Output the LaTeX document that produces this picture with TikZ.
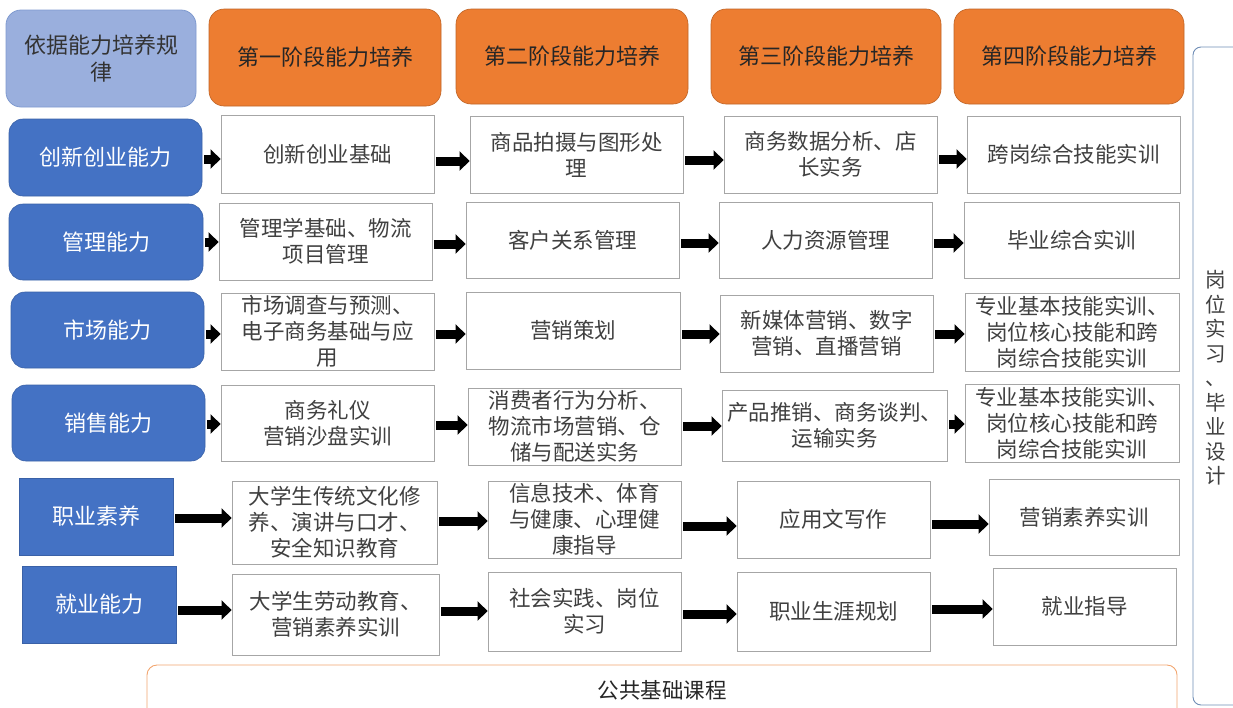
\documentclass[tikz,border=0pt]{standalone}
\usepackage{fontspec}
\newfontfamily\cjk{Noto Sans CJK SC}
\usetikzlibrary{arrows.meta}
\definecolor{orangeH}{HTML}{ED7D31}
\definecolor{blueL}{HTML}{4472C4}
\definecolor{lightB}{HTML}{9AAFDD}
\definecolor{lightBd}{HTML}{7F9ACF}
\definecolor{txt}{HTML}{404040}
\definecolor{boxbd}{HTML}{A6A6A6}
\definecolor{rbd}{HTML}{6F8DB6}
\definecolor{obd}{HTML}{F2A56E}
\tikzset{
  base/.style={inner sep=0pt, align=center, font=\cjk\fontsize{21.5}{26}\selectfont},
  hdr/.style={base, fill=orangeH, draw=orangeH!80!black, line width=0.6pt, rounded corners=15pt, text=black!85, font=\cjk\fontsize{22}{26}\selectfont},
  hdrzero/.style={base, fill=lightB, draw=lightBd, line width=0.8pt, rounded corners=15pt, text=black!80, font=\cjk\fontsize{22}{27}\selectfont},
  capbox/.style={base, fill=blueL, draw=blueL!85!black, line width=0.6pt, rounded corners=14pt, text=white, font=\cjk\fontsize{22}{26}\selectfont},
  capsq/.style={base, fill=blueL, draw=blueL!85!black, line width=0.6pt, text=white, font=\cjk\fontsize{22}{26}\selectfont},
  wbox/.style={base, fill=white, draw=boxbd, line width=0.8pt, text=txt},
  arr/.style={line width=9pt, -{Triangle[length=10pt,width=19pt]}, black},
}
\newcommand{\bx}[7]{\node[#2, minimum width={(#5-#3)*1pt}, minimum height={(#6-#4)*1pt}] (#1) at ({(#3+#5)/2},{(#4+#6)/2}) {#7};}
\newcommand{\ar}[3]{\draw[arr] ([xshift=2pt]#1.east |- 0,#3) -- (#2.west |- 0,#3);}
\begin{document}
\begin{tikzpicture}[x=1pt,y=-1pt]
\useasboundingbox (0,0) rectangle (1233,707);
\clip (0,0) rectangle (1233,707);
% header
\bx{h0}{hdrzero}{6}{10}{196}{107}{依据能力培养规\\律}
\bx{h1}{hdr}{209}{9}{441}{106}{第一阶段能力培养}
\bx{h2}{hdr}{456}{9}{688}{104}{第二阶段能力培养}
\bx{h3}{hdr}{711}{9}{941}{104}{第三阶段能力培养}
\bx{h4}{hdr}{954}{9}{1184}{104}{第四阶段能力培养}
% left column
\bx{c1}{capbox}{9}{119}{202}{196}{创新创业能力}
\bx{c2}{capbox}{9}{204}{203}{280}{管理能力}
\bx{c3}{capbox}{11}{292}{204}{368}{市场能力}
\bx{c4}{capbox}{12}{385}{205}{461}{销售能力}
\bx{c5}{capsq}{19}{478}{173}{555}{职业素养}
\bx{c6}{capsq}{22}{566}{176}{643}{就业能力}
% row 1
\bx{a1}{wbox}{221}{115}{434}{193}{创新创业基础}
\bx{a2}{wbox}{470}{116}{683}{193}{商品拍摄与图形处\\理}
\bx{a3}{wbox}{724}{116}{937}{193}{商务数据分析、店\\长实务}
\bx{a4}{wbox}{967}{116}{1180}{193}{跨岗综合技能实训}
% row 2
\bx{b1}{wbox}{219}{203}{432}{280}{管理学基础、物流\\项目管理}
\bx{b2}{wbox}{466}{202}{679}{278}{客户关系管理}
\bx{b3}{wbox}{719}{202}{932}{278}{人力资源管理}
\bx{b4}{wbox}{964}{202}{1179}{278}{毕业综合实训}
% row 3
\bx{d1}{wbox}{221}{293}{434}{370}{市场调查与预测、\\电子商务基础与应\\用}
\bx{d2}{wbox}{466}{292}{680}{369}{营销策划}
\bx{d3}{wbox}{720}{295}{933}{372}{新媒体营销、数字\\营销、直播营销}
\bx{d4}{wbox}{965}{293}{1179}{371}{专业基本技能实训、\\岗位核心技能和跨\\岗综合技能实训}
% row 4
\bx{e1}{wbox}{221}{385}{434}{461}{商务礼仪\\营销沙盘实训}
\bx{e2}{wbox}{468}{388}{681}{465}{消费者行为分析、\\物流市场营销、仓\\储与配送实务}
\bx{e3}{wbox}{722}{390}{947}{461}{产品推销、商务谈判、\\运输实务}
\bx{e4}{wbox}{965}{384}{1179}{462}{专业基本技能实训、\\岗位核心技能和跨\\岗综合技能实训}
% row 5
\bx{f1}{wbox}{232}{481}{437}{564}{大学生传统文化修\\养、演讲与口才、\\安全知识教育}
\bx{f2}{wbox}{488}{481}{681}{558}{信息技术、体育\\与健康、心理健\\康指导}
\bx{f3}{wbox}{737}{481}{930}{558}{应用文写作}
\bx{f4}{wbox}{989}{479}{1179}{555}{营销素养实训}
% row 6
\bx{g1}{wbox}{232}{574}{439}{655}{大学生劳动教育、\\营销素养实训}
\bx{g2}{wbox}{488}{572}{681}{651}{社会实践、岗位\\实习}
\bx{g3}{wbox}{737}{572}{930}{651}{职业生涯规划}
\bx{g4}{wbox}{993}{568}{1176}{645}{就业指导}
% arrows
\ar{c1}{a1}{159}\ar{a1}{a2}{161}\ar{a2}{a3}{160}\ar{a3}{a4}{159}
\ar{c2}{b1}{242}\ar{b1}{b2}{244}\ar{b2}{b3}{243}\ar{b3}{b4}{243}
\ar{c3}{d1}{334}\ar{d1}{d2}{334}\ar{d2}{d3}{334}\ar{d3}{d4}{334}
\ar{c4}{e1}{424}\ar{e1}{e2}{425}\ar{e2}{e3}{426}\ar{e3}{e4}{424}
\ar{c5}{f1}{518}\ar{f1}{f2}{521}\ar{f2}{f3}{526}\ar{f3}{f4}{524}
\ar{c6}{g1}{610}\ar{g1}{g2}{611}\ar{g2}{g3}{614}\ar{g3}{g4}{609}
% bottom box
\draw[obd, line width=0.9pt, rounded corners=10pt] (147,665) rectangle (1177,720);
\node[base, text=black!85] (pub) at (662,690) {公共基础课程};
% right box
\draw[rbd, line width=0.9pt, rounded corners=8pt] (1193,47) rectangle (1260,705);
\node[base, text=txt, font=\cjk\fontsize{20.5}{24.5}\selectfont] (gw) at (1216,378) {岗\\位\\实\\习\\、\\毕\\业\\设\\计};
\end{tikzpicture}
\end{document}
